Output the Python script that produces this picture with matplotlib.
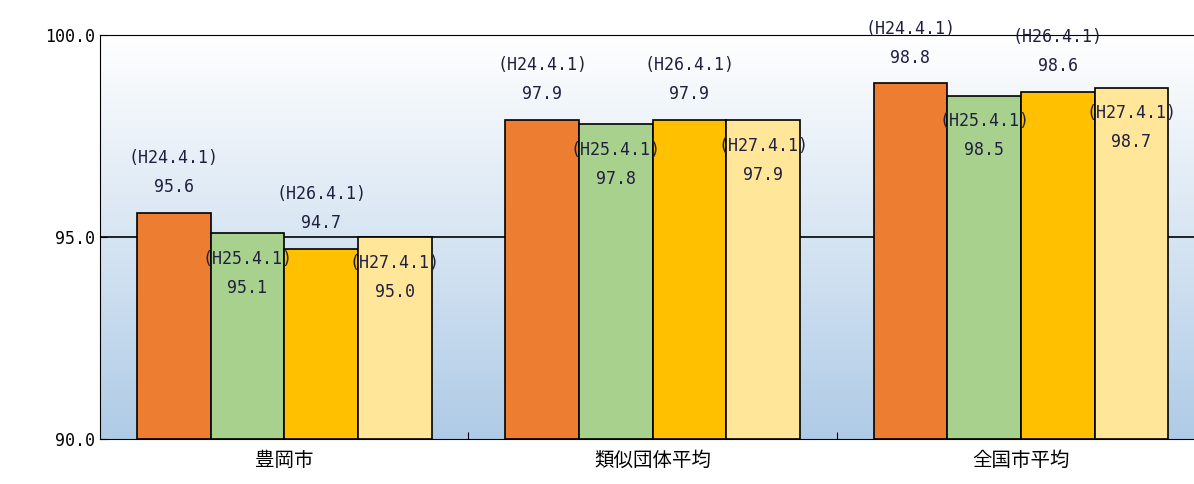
import matplotlib.pyplot as plt
import numpy as np
from matplotlib.colors import LinearSegmentedColormap

plt.rcParams['font.family'] = ['Noto Sans CJK JP', 'DejaVu Sans']

categories = ['豊岡市', '類似団体平均', '全国市平均']
dates = ['(H24.4.1)', '(H25.4.1)', '(H26.4.1)', '(H27.4.1)']
values = [
    [95.6, 95.1, 94.7, 95.0],
    [97.9, 97.8, 97.9, 97.9],
    [98.8, 98.5, 98.6, 98.7],
]
colors = ['#ED7D31', '#A9D18E', '#FFC000', '#FFE699']

fig = plt.figure(figsize=(11.94, 4.84), dpi=100)
ax = fig.add_axes([100 / 1194, 45 / 484, 1094 / 1194, 404 / 484])
ax.set_xlim(-0.5, 2.47)
ax.set_ylim(90, 100)

# background gradient: light blue at bottom, white at top
cmap = LinearSegmentedColormap.from_list('bg', ['#AFCBE6', '#FFFFFF'])
grad = np.linspace(0, 1, 256).reshape(-1, 1)
ax.imshow(grad, aspect='auto', cmap=cmap, origin='lower',
          extent=[-0.5, 2.47, 90, 100], zorder=0)
ax.axhline(95, color='black', lw=1.2, zorder=1)

w = 0.2
x = np.arange(len(categories))
for j in range(4):
    for i in range(len(categories)):
        v = values[i][j]
        xc = x[i] + (j - 1.5) * w
        ax.bar(xc, v - 90, bottom=90, width=w, color=colors[j], edgecolor='black', lw=1.2, zorder=2)
        txt = f'{dates[j]}\n{v:.1f}'
        if j % 2 == 0:
            ax.annotate(txt, (xc, v), xytext=(0, 12), textcoords='offset points',
                        ha='center', va='bottom', fontsize=12, linespacing=1.8, zorder=3,
                        color='#1F1F3F', family=['DejaVu Sans Mono'])
        else:
            ax.annotate(txt, (xc, v), xytext=(0, -12), textcoords='offset points',
                        ha='center', va='top', fontsize=12, linespacing=1.8, zorder=3,
                        color='#1F1F3F', family=['DejaVu Sans Mono'])

ax.set_yticks([90, 95, 100])
ax.set_yticklabels(['90.0', '95.0', '100.0'], family=['DejaVu Sans Mono'], fontsize=12)
ax.set_xticks([0.5, 1.5])
ax.set_xticklabels([])
ax.set_xticks(x, minor=True)
ax.set_xticklabels(categories, minor=True, fontsize=14)
ax.tick_params(axis='x', which='minor', length=0, pad=8)
ax.tick_params(axis='x', which='major', length=5, direction='in')
ax.tick_params(axis='y', length=5, direction='in')
ax.spines['right'].set_visible(False)

fig.savefig('out.png', dpi=100)
